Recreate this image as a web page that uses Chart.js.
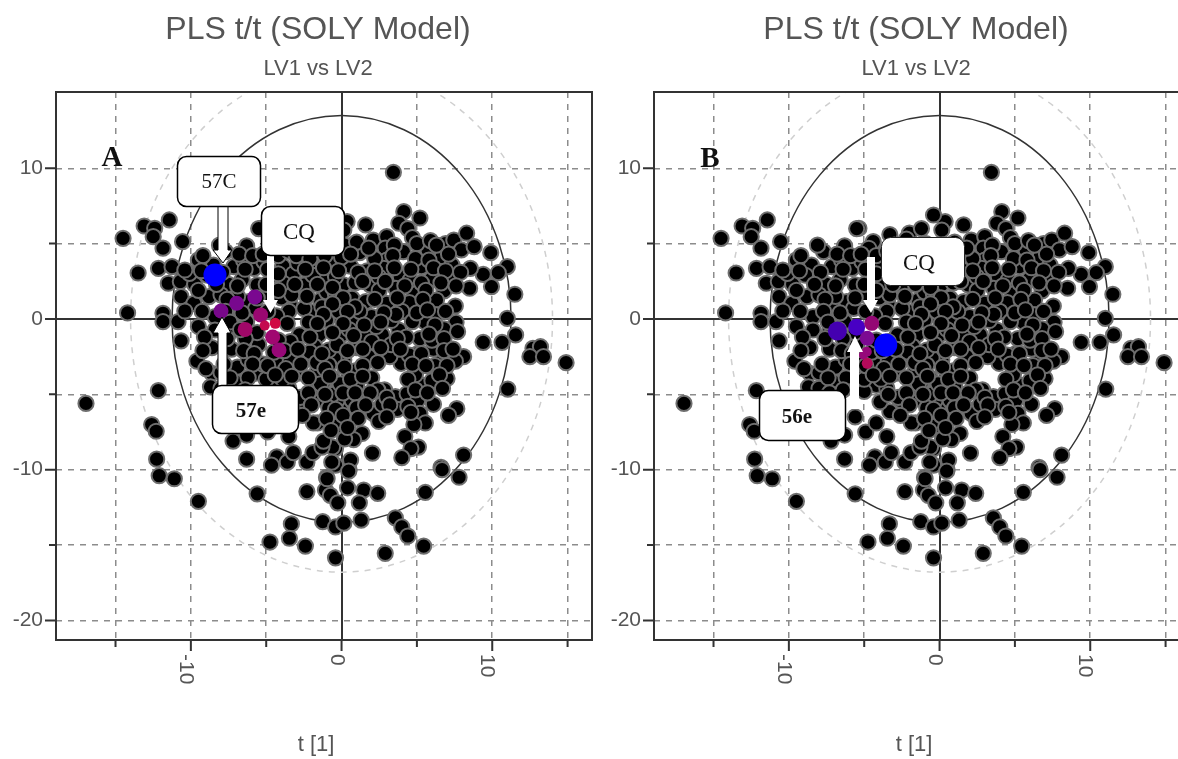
<!DOCTYPE html>
<html>
<head>
<meta charset="utf-8">
<title>PLS t/t (SOLY Model)</title>
<script src="https://cdn.jsdelivr.net/npm/chart.js@4/dist/chart.umd.min.js"></script>
<style>
  html, body { margin: 0; padding: 0; background: #fff; overflow: hidden; }
  #page { position: relative; width: 1178px; height: 759px; overflow: hidden; }
  canvas { position: absolute; top: 0; filter: blur(0.5px); }
  #chartA { left: 0; }
  #chartB { left: 598px; }
  svg { position: absolute; left: 0; top: 0; }
  svg text { font-family: "Liberation Serif", serif; fill: #111; text-anchor: middle; }
</style>
</head>
<body>
<div id="page">
  <canvas id="chartA" width="636" height="759"></canvas>
  <canvas id="chartB" width="636" height="759"></canvas>
  <svg width="1178" height="759">
    <text x="112" y="166" font-size="29" font-weight="bold">A</text>
    <text x="710" y="167" font-size="29" font-weight="bold">B</text>

    <polygon points="218,205 228,205 228,250 232,250 223,263 213,250 218,250" fill="#fff" stroke="#000"/>
    <polygon points="267,254 274,254 274,300 278,300 270.5,313 263,300 267,300" fill="#fff"/>
    <polygon points="218,387 227,387 227,333 231,333 222,317 213,333 218,333" fill="#fff" stroke="#000"/>
    <polygon points="867,257 875,257 875,300 878,300 871,313 863,300 867,300" fill="#fff"/>
    <polygon points="850,409 859,409 859,352 863,352 855,336 847,352 850,352" fill="#fff"/>

    <rect x="177.5" y="156.5" width="83" height="50" rx="9" fill="#fff" stroke="#000" stroke-width="1.5"/>
    <text x="219" y="188" font-size="21">57C</text>
    <rect x="261.5" y="206.5" width="83" height="49" rx="9" fill="#fff" stroke="#000" stroke-width="1.5"/>
    <text x="299" y="239" font-size="23">CQ</text>
    <rect x="212.5" y="385.5" width="86" height="48" rx="9" fill="#fff" stroke="#000" stroke-width="1.5"/>
    <text x="251" y="417" font-size="21" font-weight="bold">57e</text>
    <rect x="881.5" y="237.5" width="83" height="48" rx="9" fill="#fff" stroke="#222" stroke-width="1"/>
    <text x="919" y="270" font-size="23">CQ</text>
    <rect x="759.5" y="390.5" width="86" height="50" rx="9" fill="#fff" stroke="#000" stroke-width="1.5"/>
    <text x="797" y="423" font-size="21" font-weight="bold">56e</text>
  </svg>
</div>

<script>
// t[1], t[2] scores, same cloud in both panels
const scores = [
  [3.44,9.73],[-16.96,-5.6],[14.9,-2.9],
  // upper left
  [-11.43,6.57],[-13.1,6.17],[-12.4,6.02],[-12.5,5.46],[-14.5,5.35],[-11.85,4.7],[-10.55,5.13],
  [-13.5,3.05],[-12.15,3.36],[-11.25,3.47],[-11.5,2.37],[-10.7,2.48],[-9.75,2.3],[-10.1,3.03],
  [-9.5,3.92],[-8.5,3.58],[-10.65,1.48],[-9.8,1.04],[-8.8,1.48],[-14.2,0.4],[-11.85,0.38],
  [-11.85,-0.18],[-10.85,-0.18],[-10.4,0.53],[-9.5,-0.5],[-8.4,0.15],[-8.4,-0.73],[-10.65,-1.45],
  [-7.7,4.47],[-8.1,4.9],[-6.3,4.85],[-7.15,3.47],[-5.8,3.36],[-5.35,6.02],[-4.4,5.13],[-4.7,4.69],
  [-7.5,2.04],[-7.5,2.3],[-6.6,2.6],[-5.15,3.8],[-5.6,2.26],[-6.16,1.15],[-7.16,0.82],[-5.7,0.7],
  [-6.3,-0.18],[-8,1.6],[-9.25,0.5],[-10.4,3.25],[-8.9,2.9],[-9.5,1.9],[-6.5,3.9],[-6.9,1.5],
  [-4.6,2.9],[-4.9,1.6],[-3.9,3.5],[-4.2,4.2],[-3.3,5.6],[-2,5.7],[-1.2,6],[-5.5,6],
  [-3.2,3],[-1.76,3.6],[-1,2.8],[-2.5,2.25],[-1.4,1.26],[-0.43,1.7],[-0.54,0.27],[-3.4,0.93],
  [-2.1,0.5],[0.34,3.6],[0.12,2.26],[-4,1.4],[-3.86,2.37],[-3.3,1.6],[-2.5,0.7],[-1.3,0.8],
  [-1,1.8],[-3.5,0.5],[-2.2,-0.2],[-1,-0.07],[-2.8,-1.06],[-1.5,-1.06],[-2.6,4.3],[-3.5,4.5],
  [-1.5,4.8],[-0.5,4.6],[-2.2,5.3],[-2.9,3.7],[-1.9,2.9],[-3.1,2.3],[-4.3,0.2],
  // upper right
  [4.13,7.12],[5.2,6.7],[3.8,6.35],[4.4,6],[4.7,5.4],[1.6,6.24],[0.37,6.46],[-0.4,6.9],[0.15,5.9],
  [2.1,5.24],[3,5.46],[2.9,4.7],[4.1,4.47],[3,3.9],[5.74,4.58],[6.9,5],[7.45,5.24],[8.3,5.69],
  [6.67,4.14],[7.95,4.58],[8.8,4.8],[9.9,4.4],[7.33,3.58],[5.3,3.47],[11,3.47],[10.4,3.07],
  [9.4,2.96],[8.55,3.36],[9.95,2.15],[8.5,2.04],[6,2.7],[3.9,2.8],[2.8,3.36],[3.6,2.04],[1.9,2.26],
  [6.8,1.86],[4.8,1.7],[11.5,1.64],[7.55,0.86],[3,1.04],[4.5,1.08],[6.3,1.26],[0.7,1.37],[-0.4,1.6],
  [6.3,0.27],[2,0.15],[0.9,-0.07],[5.56,-0.22],[4,0.5],[7.6,-0.22],[6.8,-0.66],[7.7,-0.84],[11,0.04],
  [3.8,-0.73],[2.7,-1.06],[4.7,-0.18],[11.55,-1.06],[9.4,-1.55],[10.65,-1.55],[0,-1.06],[1.6,-1.17],
  [-0.2,0.5],[1.6,1.15],[2.46,2.8],[4.57,2.6],[2.5,1.9],[1.2,0.5],[3.3,-0.1],[-0.4,2.8],[0.9,2.4],
  [1.7,3.2],[0.6,3.5],[1.2,4.4],[0.7,4.9],[5,0.4],[3.6,0.3],[5.3,2.4],[7.2,2.7],[2.2,4],[-0.6,3.9],
  // right edge
  [12.7,-1.95],[13.2,-1.84],[12.5,-2.5],[13.4,-2.5],[11.03,-4.65],
  // lower middle
  [8.1,-2.5],[7.55,-2.8],[6.56,-2.8],[5.05,-2.3],[3.95,-2.94],[0.9,-3.45],[7,-3.95],[5.45,-4.4],
  [2,-3.9],[0.03,-4.4],[2.85,-4.7],[3.57,-5.15],[4.35,-4.95],[5.05,-5.4],[6.1,-5.66],[2.1,-6.26],
  [2.7,-5.66],[0.6,-6.5],[-0.3,-7.1],[3.7,-6],[5.2,-6.26],[7.65,-5.95],[7.1,-6.4],[5.56,-6.9],
  [4.8,-7],[4.2,-7.8],[5.1,-8.5],[4.6,-8.6],[4,-9.2],[2.05,-8.9],[8.1,-9.03],[6.6,-9.85],[7.8,-10.5],
  [1.36,-7.6],[0.8,-8],[-0.08,-5.93],[1.36,-5],[0.5,-10],[0.6,-9.36],[-0.4,-8.6],[-0.4,-9.7],
  [2.47,-6.8],[0.15,-2.7],[1.8,-2.5],[2.9,-1.95],[-0.63,-3.9],[0.7,-5.4],[-0.3,-5.4],[-0.5,-2.6],
  [5.2,-1.3],[6.1,-2],[4.5,-2.4],[3.2,-2.5],[1,-1.9],[2,-1.5],[3.3,-1.7],[4.9,-3.7],[6.2,-3.1],
  [2.4,-4.7],[1,-4.4],[-0.6,-5],[0.2,-3.2],[-1.8,-1.8],[0.5,-0.7],[4.3,-1.2],[2.3,-0.5],[6,-1.4],
  // lower left
  [-9.6,-2.8],[-8.6,-1.9],[-7.3,-2],[-8.6,-3.6],[-8,-3.56],[-6.9,-3.2],[-7,-4.2],[-8.7,-4.5],[-8,-4.6],
  [-5.7,-3.6],[-12.16,-4.75],[-12.6,-7],[-12.3,-7.45],[-12.27,-9.3],[-12.1,-10.4],[-11.1,-10.6],
  [-9.5,-12.1],[-6.3,-9.3],[-5.6,-11.6],[-4.3,-9.15],[-4.65,-9.7],[-3.6,-9.5],[-3.2,-8.87],[-2.3,-9.5],
  [-1.9,-8.87],[-0.6,-8.5],[-1,-10.5],[-0.65,-9.5],[-2.3,-11.45],[-1.07,-11.35],[-0.74,-11.7],[-0.96,-10.6],
  [0.47,-10.1],[0.4,-11.2],[1.47,-11.35],[2.4,-11.57],[1.18,-12.2],[-0.25,-12.2],[5.56,-11.5],[6.67,-10],
  [1.3,-13.35],[-1.25,-13.45],[-0.4,-13.8],[0.15,-13.55],[3.57,-13.2],[4,-13.8],[4.4,-14.4],[5.45,-15.07],
  [2.9,-15.55],[-0.4,-15.85],[-3.33,-13.6],[-3.46,-14.55],[-2.4,-15.07],[-4.75,-14.8],
  [-4.9,-7.5],[-5.6,-6.5],[-4.2,-6.9],[-3.5,-7.8],[-1.3,-8.5],[-3.3,-6.15],[-1.6,-6.9],[-2.6,-5.4],
  [-1.4,-5.3],[-4.2,-4.4],[-2.85,-3.6],[-1.2,-4.2],[-2.2,-2.6],[-0.85,-3.05],[-3.95,-5.5],[-5,-4.8],
  [-0.85,-5.9],[-7.2,-8.1],[-6.3,-7.7],[-0.85,-2.06],[-3.3,-2.8],[-4.2,-3.05],[-1.6,-3.4],[-1.9,-4.6],
  [-3.5,-4.6],[-5,-4],[-3.9,-4],[-1.4,-4.3],[-0.1,-4.3],[-2.75,-5.2],[-1.87,-6.9],[-3.4,-1.5],[-2.1,-2.2],
  [-0.3,-1.7],[-3.4,-2.8],[-1.65,-2.9],[-5.5,-1.7],[-4.5,-2.2],[-6.2,-2.7],[-5.2,-3],[-1.2,-8.1],[0.2,-7.95],
  [-5.6,-0.9],[-6.4,-1.3],[-7.3,-0.8],
  // packed middle of the cloud, overlapping too much to read one by one
  [-3,4.9],[-0.9,5],[0.2,4.9],[1,5.1],[3.5,4.9],[5,5],[5.9,5.2],[6.3,4.9],
  [-9.2,4.2],[-6.8,4.3],[-5.9,4.2],[-5.2,4.3],[-3,4.2],[-2.1,4],[-1.1,4.2],[0,4.1],[0.6,4.3],[1.8,4.7],[3.4,4.2],[4.9,4],[5.8,3.9],[7.1,4.3],
  [-9.3,3.2],[-7.9,3.1],[-6.4,3.3],[-4.9,3.3],[-4.2,3],[-2.4,3.3],[-1.2,3.4],[-0.2,3.2],[1.1,3.1],[2.2,3.2],[3.5,3.4],[4.6,3.3],[6.1,3.4],[6.9,3.2],[7.9,3.1],
  [-8.3,2.3],[-6.9,2.2],[-5,2.3],[-4.2,1.9],[-1.6,2.3],[-0.6,2.1],[1.4,2.5],[2.9,2.5],[4.2,2.2],[5.6,1.9],[6.6,2.4],[7.6,2.2],
  [-7.6,1.3],[-5.6,1.4],[-2.3,1.5],[0.1,1.4],[2.2,1.3],[3.7,1.4],[5.4,1.3],[-0.6,1],[0.9,0.8],
  [-7.7,0.5],[-6.6,0.4],[-4.9,0.5],[-1.2,0.3],[0.4,0.5],[2.8,0.4],[5.7,0.6],[6.9,0.5],
  [-7.4,-0.2],[-3.6,-0.3],[-1.6,-0.3],[0.1,-0.3],[1.5,-0.4],[2.6,-0.2],[6.2,-0.4],
  [-9.1,-1.2],[-7.6,-1.3],[-6.7,-0.7],[-4.2,-1.4],[-2.1,-1.2],[-0.6,-0.9],[0.8,-1.1],[3.7,-1.3],[5.8,-1],[6.8,-1.3],
  [-9.2,-2.1],[-6.5,-2.1],[-5.8,-2.3],[-3.8,-2.1],[-2.9,-2],[-1.3,-2.3],[0.4,-2.1],[1.4,-2],[2.6,-1.9],[3.9,-2],[5.3,-2.3],[6.8,-2.1],[7.4,-2],
  [-7.8,-3],[-5.9,-3],[-4.9,-3.1],[-3.7,-3.3],[-2.7,-3],[-1.1,-3.3],[1.4,-3.1],[2.4,-2.9],[4.7,-3],[5.6,-3.1],[7,-3.1],
  [-9,-3.3],[-7.4,-3.9],[-6.2,-3.9],[-4.4,-3.7],[-3.3,-3.8],[-2.2,-3.9],[-0.8,-3.8],[0.6,-4],[1.4,-3.8],[4.4,-4],[6,-4.1],[6.5,-3.7],
  [-7.3,-4.9],[-6.4,-4.7],[-3.4,-5],[-2.2,-4.9],[-1.1,-5],[0.1,-4.9],[0.9,-4.9],[1.9,-4.9],[3,-5.2],[4.9,-4.7],[5.7,-4.9],[6.7,-4.6],
  [-2,-5.7],[-0.4,-6],[1,-5.9],[1.6,-5.7],[3.2,-5.7],[4.4,-5.8],
  [-2.6,-6.4],[-1,-6.6],[0.1,-6.4],[1.1,-6.6],[3,-6.5],[4.6,-6.2],
  [-0.7,-7.4],[0.4,-7.2]
];

// highlighted compounds, panel A (57C, 57e, CQ series)
const highlightA = [[-8.4,2.92],[-8,0.53],[-6.96,1.04],[-5.76,1.46],[-5.37,0.27],[-6.4,-0.69],[-5.1,-0.44],[-4.4,-0.29],[-4.57,-1.2],[-4.15,-2.06]];
const highlightAColors = ["#0000ff","#78088a","#78088e","#7a0890","#9a0870","#a00868","#c40a50","#d00a44","#a00870","#980878"];
const highlightASizes = [11.5,7.5,7.5,7.5,7.5,7.5,5,5.5,7.5,7.5];

// panel B (56e, CQ series)
const highlightB = [[-3.57,-1.73],[-6.78,-0.8],[-5.5,-0.55],[-4.5,-0.29],[-4.8,-1.28],[-4.83,-2.17],[-5.05,-2.39],[-4.8,-2.94]];
const highlightBColors = ["#0000ff","#4400b0","#4800c4","#940874","#7c0a92","#96087a","#96087a","#b40a5a"];
const highlightBSizes = [11.5,9.5,8.5,7.5,7.5,5,4.5,5.5];

const xTicks = [-15,-10,-5,0,5,10,15];
const yTicks = [-20,-15,-10,-5,0,5,10];
const labelledTicks = [-20,-10,0,10];

const innerEllipse = { rx: 11.25, ry: 13.5 };
const outerEllipse = { rx: 14, ry: 16.8 };

const inkText = "#555";

// ellipses under the points, ticks and frame around the plot
const plotExtras = {
  id: "plotExtras",
  beforeDatasetsDraw(chart) {
    const { ctx, chartArea: a, scales: { x, y } } = chart;
    const cx = x.getPixelForValue(0), cy = y.getPixelForValue(0);
    ctx.save();
    ctx.beginPath();
    ctx.rect(a.left, a.top, a.width, a.height);
    ctx.clip();
    ctx.beginPath();
    ctx.ellipse(cx, cy, x.getPixelForValue(outerEllipse.rx) - cx, cy - y.getPixelForValue(outerEllipse.ry), 0, 0, Math.PI * 2);
    ctx.strokeStyle = "#cfcfcf";
    ctx.lineWidth = 1.5;
    ctx.setLineDash([6, 6]);
    ctx.stroke();
    ctx.beginPath();
    ctx.ellipse(cx, cy, x.getPixelForValue(innerEllipse.rx) - cx, cy - y.getPixelForValue(innerEllipse.ry), 0, 0, Math.PI * 2);
    ctx.strokeStyle = "#333";
    ctx.setLineDash([]);
    ctx.stroke();
    ctx.restore();
  },
  afterDraw(chart) {
    const { ctx, chartArea: a, scales: { x, y } } = chart;
    ctx.save();
    ctx.strokeStyle = "#333";
    ctx.lineWidth = 2;
    ctx.strokeRect(a.left, a.top, a.width, a.height);
    ctx.beginPath();
    xTicks.forEach(v => {
      const px = x.getPixelForValue(v);
      ctx.moveTo(px, a.bottom);
      ctx.lineTo(px, a.bottom + (labelledTicks.includes(v) ? 11 : 7));
    });
    yTicks.forEach(v => {
      const py = y.getPixelForValue(v);
      ctx.moveTo(a.left, py);
      ctx.lineTo(a.left - (labelledTicks.includes(v) ? 11 : 7), py);
    });
    ctx.stroke();

    ctx.fillStyle = inkText;
    ctx.font = "21px 'Liberation Sans'";
    ctx.textBaseline = "middle";
    // x tick labels read top to bottom in the original
    xTicks.filter(v => labelledTicks.includes(v)).forEach(v => {
      ctx.save();
      ctx.translate(Math.round(x.getPixelForValue(v)) - 5, a.bottom + 14);
      ctx.rotate(Math.PI / 2);
      ctx.textAlign = "left";
      ctx.fillText(String(v), 0, 0);
      ctx.restore();
    });
    ctx.textAlign = "center";
    ctx.font = "22px 'Liberation Sans'";
    ctx.fillText("t [1]", chart.width / 2 - 2, 745);
    ctx.restore();
  }
};

function makeChart(id, points, colors, sizes) {
  return new Chart(document.getElementById(id), {
    type: "scatter",
    data: {
      datasets: [
        {
          data: points.map(p => ({ x: p[0], y: p[1] })),
          pointBackgroundColor: colors,
          pointBorderColor: colors,
          pointBorderWidth: 0,
          pointRadius: sizes,
          order: 0
        },
        {
          data: scores.map(p => ({ x: p[0], y: p[1] })),
          pointBackgroundColor: "#000",
          pointBorderColor: "#6e6e6e",
          pointBorderWidth: 2,
          pointRadius: 7.6,
          order: 1
        }
      ]
    },
    options: {
      responsive: false,
      animation: false,
      layout: { padding: 0 },
      plugins: {
        legend: { display: false },
        tooltip: { enabled: false },
        title: {
          display: true,
          text: "PLS t/t (SOLY Model)",
          color: inkText,
          font: { family: "'Liberation Sans'", size: 32, weight: "normal", lineHeight: 1.2 },
          padding: { top: 11, bottom: 4 }
        },
        subtitle: {
          display: true,
          text: "LV1 vs LV2",
          color: inkText,
          font: { family: "'Liberation Sans'", size: 22, weight: "normal", lineHeight: 1.2 },
          padding: { top: 2, bottom: 10.2 }
        }
      },
      scales: {
        x: {
          type: "linear",
          min: -18.95,
          max: 16.62,
          afterFit(s) { s.height = 119; s.paddingRight = 44; },
          afterBuildTicks(s) { s.ticks = xTicks.map(v => ({ value: v })); },
          ticks: { display: false },
          grid: {
            drawTicks: false,
            color: c => (c.tick && c.tick.value === 0 ? "#333" : "#8c8c8c"),
            lineWidth: c => (c.tick && c.tick.value === 0 ? 2 : 1.5)
          },
          border: { display: false, dash: c => (c.tick && c.tick.value === 0 ? [] : [6, 6]) }
        },
        y: {
          type: "linear",
          min: -21.3,
          max: 15.06,
          afterFit(s) { s.width = 56; },
          afterBuildTicks(s) { s.ticks = yTicks.map(v => ({ value: v })); },
          ticks: {
            color: inkText,
            padding: 13,
            font: { family: "'Liberation Sans'", size: 21 },
            callback: v => (labelledTicks.includes(v) ? String(v) : "")
          },
          grid: {
            drawTicks: false,
            color: c => (c.tick && c.tick.value === 0 ? "#333" : "#8c8c8c"),
            lineWidth: c => (c.tick && c.tick.value === 0 ? 2 : 1.5)
          },
          border: { display: false, dash: c => (c.tick && c.tick.value === 0 ? [] : [6, 6]) }
        }
      }
    },
    plugins: [plotExtras]
  });
}

makeChart("chartA", highlightA, highlightAColors, highlightASizes);
makeChart("chartB", highlightB, highlightBColors, highlightBSizes);
</script>
</body>
</html>
